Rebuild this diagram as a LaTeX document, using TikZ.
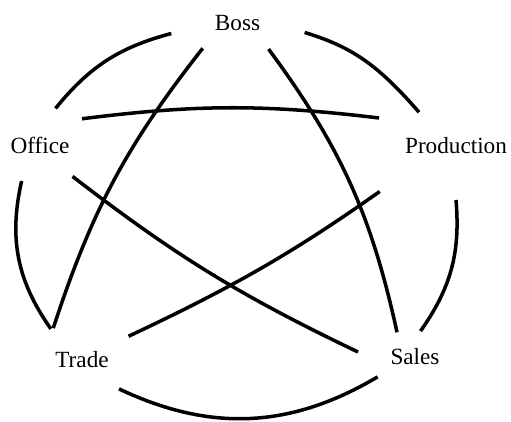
\documentclass[tikz,border=0pt]{standalone}
\usepackage{fontspec}
\setmainfont{Liberation Serif}
\usetikzlibrary{shapes.geometric}

\begin{document}
\begin{tikzpicture}[
  dept/.style={ellipse, inner sep=0pt, outer sep=0pt, font=\fontsize{13.2}{15}\selectfont},
  link/.style={line width=2pt}]
  \useasboundingbox (0,0) rectangle (10.22,8.42);
  % departments, each with an invisible ellipse that keeps the lines off the text
  \node[dept, minimum width=2.84cm, minimum height=1.16cm] (boss) at (4.75,7.96) {Boss};
  \node[dept, minimum width=2.32cm, minimum height=1.52cm] (office) at (0.80,5.52) {Office};
  \node[dept, minimum width=3.6cm, minimum height=2.16cm] (prod) at (9.12,5.50) {Production};
  \node[dept, minimum width=2.48cm, minimum height=1.44cm] (trade) at (1.64,1.22) {Trade};
  \node[dept, minimum width=2.32cm, minimum height=1.04cm] (sales) at (8.30,1.28) {Sales};
  % outer ring
  \draw[link] (office.67) to[bend left=18] (boss.189);
  \draw[link, shorten >=-0.32cm] (boss.352) to[bend left=16] (prod.136);
  \draw[link] (prod.270) to[bend left=20] (sales.78);
  \draw[link] (sales.208) to[bend left=28] (trade.322);
  \draw[link] (trade.135) to[bend left=24] (office.243);
  % inner star
  \draw[link] (boss.216) to[bend right=10] (trade.132);
  \draw[link] (boss.320) to[bend left=12] (sales.126);
  \draw[link] (office.32) to[bend left=7] (prod.160);
  \draw[link] (office.316) to[bend right=6] (sales.175);
  \draw[link, shorten >=0.28cm] (trade.27) to[bend right=5] (prod.210);
\end{tikzpicture}
\end{document}
